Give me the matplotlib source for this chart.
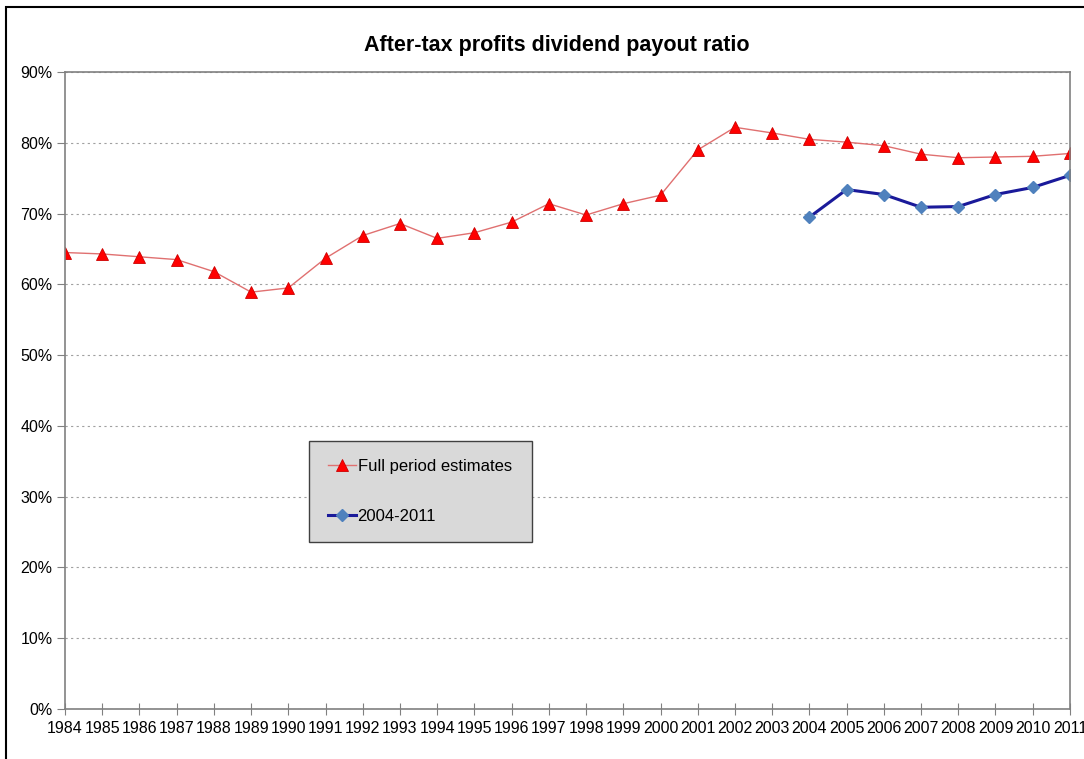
import numpy as np
import matplotlib.pyplot as plt
from matplotlib.patches import Rectangle
from matplotlib.ticker import PercentFormatter

plt.rcParams['font.family'] = ['Liberation Sans', 'DejaVu Sans']

years = list(range(1984, 2012))
full_period = [64.5, 64.3, 63.9, 63.5, 61.8, 58.9, 59.5, 63.7, 66.9, 68.6,
               66.5, 67.3, 68.8, 71.4, 69.8, 71.4, 72.6, 79.0, 82.2, 81.4,
               80.5, 80.1, 79.6, 78.4, 77.9, 78.0, 78.1, 78.5]
recent_years = list(range(2004, 2012))
recent = [69.5, 73.4, 72.7, 70.9, 71.0, 72.7, 73.7, 75.4]

fig = plt.figure(figsize=(10.84, 7.59), dpi=100)
ax = fig.add_axes([0.060, 0.066, 0.927, 0.839])

ax.plot(years, full_period, color='#E07070', lw=1.0, marker='^', ms=9,
        mfc='#FF0000', mec='#CC0000', mew=0.6, label='Full period estimates')
ax.plot(recent_years, recent, color='#1A1A9A', lw=2.2, marker='D', ms=6.5,
        mfc='#4F81BD', mec='#4F81BD', label='2004-2011')

ax.set_xlim(1984, 2011)
ax.set_ylim(0, 90)
ax.set_xticks(years)
ax.set_xticklabels([str(y) for y in years], fontsize=11.5)
ax.set_yticks(np.arange(0, 91, 10))
ax.yaxis.set_major_formatter(PercentFormatter(decimals=0))
ax.tick_params(axis='y', labelsize=11.5, length=6, direction='out', color='#808080', pad=3)
ax.tick_params(axis='x', length=8, direction='inout', color='#808080', pad=5)

ax.grid(axis='y', linestyle=(0, (2, 3)), color='#A0A0A0', lw=0.8)
for side in ax.spines.values():
    side.set_color('#808080')
    side.set_linewidth(1.2)

leg = ax.legend(loc='upper left', bbox_to_anchor=(0.243, 0.267, 0.222, 0.154),
                mode='expand', borderaxespad=0, fontsize=12, fancybox=False,
                framealpha=1, facecolor='#D9D9D9', edgecolor='#404040',
                handlelength=1.7, handletextpad=0.1, labelspacing=2.1,
                borderpad=1.1)
leg.get_frame().set_linewidth(1.0)

fig.text(557 / 1084, 1 - 46 / 759, 'After-tax profits dividend payout ratio',
         ha='center', va='center', fontsize=15.5, fontweight='bold')

# outer frame (clipped at right and bottom edges)
fig.patches.append(Rectangle((6 / 1084, -0.05), 1.2, 1 - 7 / 759 + 0.05,
                             transform=fig.transFigure, fill=False,
                             edgecolor='black', lw=1.5))

fig.savefig('out.png', dpi=100)
